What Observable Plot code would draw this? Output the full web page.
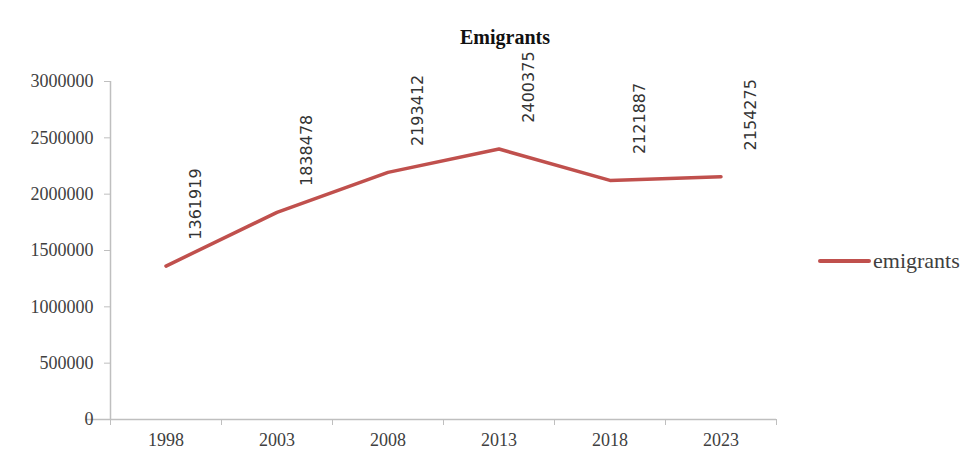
<!DOCTYPE html>
<html>
<head>
<meta charset="utf-8">
<script src="https://cdn.jsdelivr.net/npm/d3@7"></script>
<script src="https://cdn.jsdelivr.net/npm/@observablehq/plot@0.6"></script>
<style>
  body { margin: 0; background: #fff; }
  #wrap { position: relative; width: 971px; height: 458px; }
  #title { position: absolute; left: 405px; width: 200px; top: 26px; text-align: center;
    font: bold 20px "Liberation Serif", "DejaVu Serif", serif; color: #111; }
  #legend { position: absolute; left: 818px; top: 248px; display: flex; align-items: center;
    font: 22px "Liberation Serif", "DejaVu Serif", serif; color: #404040; }
  #legend .sw { width: 53px; height: 4px; background: #C0504D; margin-right: 2px; border-radius: 2px; }
</style>
</head>
<body>
<div id="wrap">
  <div id="title">Emigrants</div>
  <div id="legend"><span class="sw"></span><span>emigrants</span></div>
</div>
<script>
const years = [1998, 2003, 2008, 2013, 2018, 2023];
const emigrants = [1361919, 1838478, 2193412, 2400375, 2121887, 2154275];
const yTicks = [0, 500000, 1000000, 1500000, 2000000, 2500000, 3000000];

const data = years.map((y, i) => ({year: y, value: emigrants[i]}));
const half = 2.5;
const bounds = years.map(y => y - half).concat([years[years.length - 1] + half]);
const gray = "#bfbfbf";
const txt = "#404040";

const chart = Plot.plot({
  width: 971,
  height: 458,
  marginLeft: 110,
  marginRight: 195,
  marginTop: 81,
  marginBottom: 39,
  style: {fontFamily: "'Liberation Serif', 'DejaVu Serif', serif", fontSize: "18px", color: txt, background: "#fff"},
  x: {type: "linear", domain: [bounds[0], bounds[bounds.length - 1]]},
  y: {domain: [0, 3000000]},
  marks: [
    Plot.ruleX([bounds[0]], {stroke: gray, strokeWidth: 1.5}),
    Plot.ruleY([0], {stroke: gray, strokeWidth: 1.5, x1: bounds[0] - 1.1, x2: bounds[bounds.length - 1]}),
    Plot.axisY({ticks: yTicks, tickFormat: d3.format("d"), tickSize: 6, tickPadding: 11, stroke: gray, strokeOpacity: 1, label: null, fontSize: 18, fill: txt}),
    Plot.axisX({ticks: bounds, tickFormat: () => "", tickSize: 6, stroke: gray, strokeOpacity: 1, label: null}),
    Plot.axisX({ticks: years, tickFormat: d3.format("d"), tickSize: 0, tickPadding: 14, label: null, fontSize: 18, fill: txt}),
    Plot.line(data, {x: "year", y: "value", stroke: "#C0504D", strokeWidth: 3.5, strokeLinejoin: "round"}),
    Plot.text(data, {x: "year", y: "value", text: d => String(d.value), rotate: -90, textAnchor: "middle",
      dx: 30, dy: -62, fontFamily: "'DejaVu Sans', sans-serif", fontSize: 16, fill: "#333"})
  ]
});
document.getElementById("wrap").prepend(chart);
chart.style.position = "absolute";
chart.style.left = "0";
chart.style.top = "0";
</script>
</body>
</html>
